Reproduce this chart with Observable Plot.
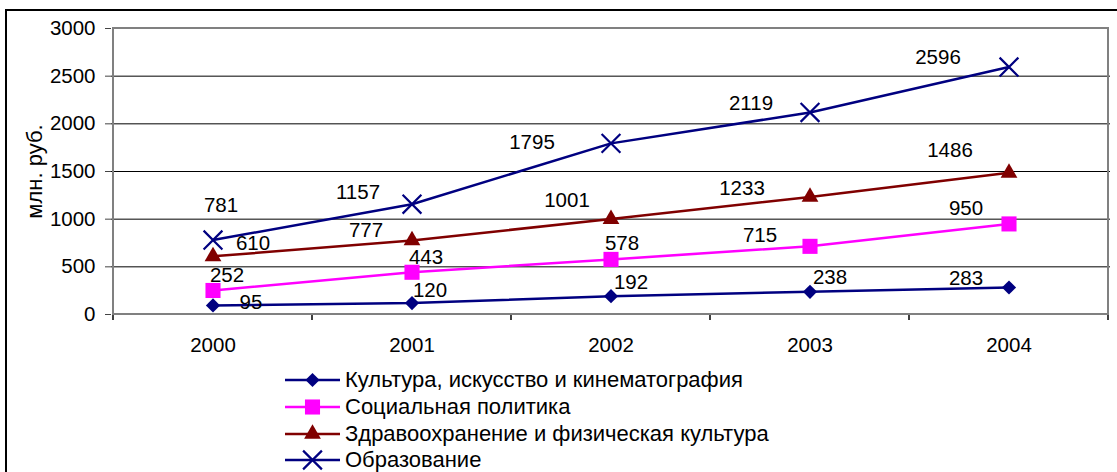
<!DOCTYPE html>
<html><head><meta charset="utf-8">
<script src="https://cdn.jsdelivr.net/npm/d3@7"></script>
<script src="https://cdn.jsdelivr.net/npm/@observablehq/plot@0.6"></script>
<style>
html,body{margin:0;padding:0;background:#fff;}
#wrap{position:relative;width:1117px;height:472px;overflow:hidden;font-family:"Liberation Sans",Arial,sans-serif;}
#border{position:absolute;left:5px;top:9px;width:1200px;height:600px;border-left:2px solid #000;border-top:2px solid #000;box-sizing:border-box;}
#chart{position:absolute;left:0;top:0;}
#legend{position:absolute;left:0;top:365px;width:1117px;height:107px;}
.row{position:absolute;left:283px;height:24px;display:flex;align-items:center;font-size:22px;color:#000;white-space:nowrap;}
.row svg{margin-right:4px;flex:none;}
</style></head>
<body>
<div id="wrap"><div id="border"></div><div id="chart"></div><div id="legend"></div></div>
<script>
const years = ["2000", "2001", "2002", "2003", "2004"];
const seriesNames = [
  "Культура, искусство и кинематография",
  "Социальная политика",
  "Здравоохранение и физическая культура",
  "Образование"
];
const culture   = [95, 120, 192, 238, 283];
const social    = [252, 443, 578, 715, 950];
const health    = [610, 777, 1001, 1233, 1486];
const education = [781, 1157, 1795, 2119, 2596];
const yTicks = [0, 500, 1000, 1500, 2000, 2500, 3000];
const yTitle = "млн. руб.";

// styling
const colors  = ["#000080", "#FF00FF", "#800000", "#000080"];
const symbols = ["diamond2", "square2", "triangle2", "times"];
const radii   = [6.4, 9.6, 8, 8.6];
// label offsets in pixels [dx, dy] per series/point
const labelOffsets = [
  [[38,-3],[18,-13],[20,-14],[20,-14],[-43,-9]],
  [[14,-15],[14,-15],[11,-16],[-50,-11],[-43,-15]],
  [[40,-13],[-46,-10],[-44,-19],[-68,-9],[-59,-22]],
  [[8,-35],[-54,-12],[-79,-1],[-59,-9],[-71,-10]]
];

const allValues = [culture, social, health, education];
const rows = [];
allValues.forEach((vals, s) => vals.forEach((v, i) => rows.push({series: seriesNames[s], s, year: years[i], i, value: v})));

const FONT = 20.5;

const decor = (index, scales) => {
  const x = scales.x, y = scales.y;
  const bw = typeof x.bandwidth === "function" ? x.bandwidth() : x.bandwidth;
  const g = d3.create("svg:g");
  const y0 = y(0), yT = y(3000);
  const left = x(years[0]), right = x(years[years.length - 1]) + bw;
  const edges = years.map(d => x(d)).concat([right]);
  edges.forEach(e => g.append("line").attr("x1", e).attr("x2", e).attr("y1", y0).attr("y2", y0 + 6).attr("stroke", "#000").attr("stroke-width", 1.5));
  g.append("rect").attr("x", left).attr("y", yT).attr("width", right - left).attr("height", y0 - yT)
    .attr("fill", "none").attr("stroke", "#808080").attr("stroke-width", 2);
  return g.node();
};

const marks = [
  Plot.gridY(yTicks.slice(1, -1), {stroke: "#000", strokeOpacity: 1, strokeWidth: 1}),
  decor,
  Plot.axisY(yTicks, {tickSize: 6, tickPadding: 10, fontSize: FONT, label: null, stroke: "#444", tickFormat: d => String(d)}),
  Plot.axisX(years, {tickSize: 0, tickPadding: 23, fontSize: FONT, label: null}),
  Plot.text([yTitle], {frameAnchor: "left", textAnchor: "middle", rotate: -90, dx: -77, fontSize: 22, fill: "#000"})
];
seriesNames.forEach((name, s) => {
  const data = rows.filter(r => r.s === s);
  marks.push(Plot.line(data, {x: "year", y: "value", stroke: colors[s], strokeWidth: 2.5}));
});
seriesNames.forEach((name, s) => {
  const data = rows.filter(r => r.s === s);
  if (symbols[s] === "times") {
    marks.push(Plot.dot(data, {x: "year", y: "value", symbol: "times", r: radii[s], stroke: colors[s], strokeWidth: 2.2, fill: "none"}));
  } else {
    marks.push(Plot.dot(data, {x: "year", y: "value", symbol: symbols[s], r: radii[s], fill: colors[s], stroke: "none"}));
  }
  data.forEach(d => {
    const [dx, dy] = labelOffsets[s][d.i];
    marks.push(Plot.text([d], {x: "year", y: "value", text: d => String(d.value), dx, dy, fontSize: FONT, fill: "#000"}));
  });
});

const chart = Plot.plot({
  width: 1117,
  height: 365,
  marginTop: 28,
  marginBottom: 51,
  marginLeft: 111,
  marginRight: 7,
  style: {fontFamily: "'Liberation Sans', Arial, sans-serif", background: "transparent", color: "#000"},
  x: {type: "band", domain: years, padding: 0, axis: null},
  y: {domain: [0, 3000], axis: null},
  marks
});
document.getElementById("chart").appendChild(chart);

// legend
const legend = document.getElementById("legend");
const rowCenters = [15, 42, 69, 95];
seriesNames.forEach((name, s) => {
  const row = document.createElement("div");
  row.className = "row";
  row.style.top = (rowCenters[s] - 12) + "px";
  const sym = {diamond2: d3.symbolDiamond2, square2: d3.symbolSquare2, triangle2: d3.symbolTriangle2, times: d3.symbolTimes}[symbols[s]];
  const path = d3.symbol(sym, Math.PI * radii[s] * radii[s])();
  const isStroke = symbols[s] === "times";
  row.innerHTML = `<svg width="58" height="24"><line x1="2" x2="57" y1="12" y2="12" stroke="${colors[s]}" stroke-width="2.5"/>` +
    `<path transform="translate(29.5,12)" d="${path}" fill="${isStroke ? "none" : colors[s]}" stroke="${isStroke ? colors[s] : "none"}" stroke-width="2.2"/></svg>` +
    `<span>${name}</span>`;
  legend.appendChild(row);
});
</script>
</body></html>
